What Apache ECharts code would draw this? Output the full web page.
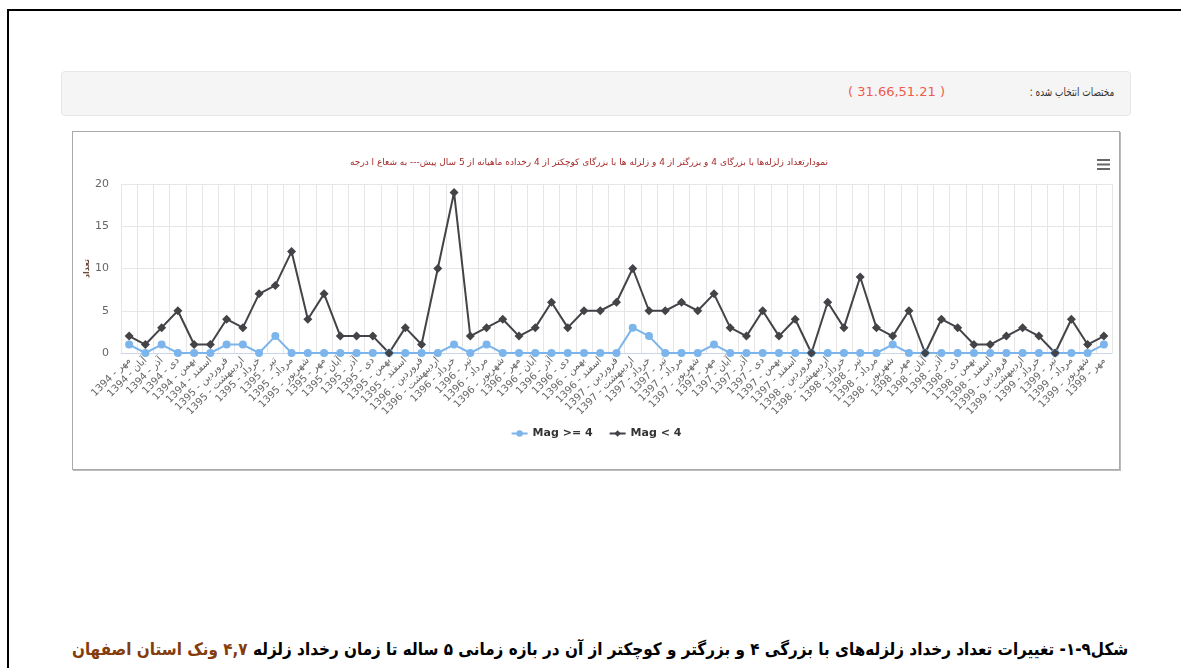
<!DOCTYPE html>
<html>
<head>
<meta charset="utf-8">
<script src="https://cdn.jsdelivr.net/npm/echarts@6/dist/echarts.min.js"></script>
<style>
  html, body { margin: 0; padding: 0; background: #fff; width: 1181px; height: 668px; overflow: hidden; font-family: "DejaVu Sans", sans-serif; }
  .frame { position: absolute; left: 7px; top: 9px; width: 1300px; height: 800px; border-left: 2px solid #000; border-top: 2px solid #000; }
  .panel { position: absolute; left: 61px; top: 71px; width: 1068px; height: 43px; background: #f5f5f5; border: 1px solid #e6e6e6; border-radius: 4px; }
  .panel .lbl { position: absolute; right: 16px; top: 13px; font-size: 12px; color: #333; direction: rtl; transform: scaleX(0.74); transform-origin: right center; white-space: nowrap; }
  .panel .val { position: absolute; left: 786px; top: 12px; font-size: 13px; color: #f05a50; direction: ltr; }
  .chartbox { position: absolute; left: 72px; top: 131px; width: 1046px; height: 337px; border: 1px solid #aaa; box-shadow: 1px 1px 0 #bbb; }
  .caption { position: absolute; right: 53px; top: 639px; text-align: right; direction: rtl; font-size: 17px; font-weight: bold; color: #000; white-space: nowrap; transform: scaleX(0.895); transform-origin: right center; }
  .caption span { color: #843c0c; }
</style>
</head>
<body>
<div class="frame"></div>
<div class="panel">
  <div class="lbl">مختصات انتخاب شده :</div>
  <div class="val">( 31.66,51.21 )</div>
</div>
<div class="chartbox" id="chart"></div>
<div class="caption">شکل۹-۱- تغییرات تعداد رخداد زلزله‌های با بزرگی ۴ و بزرگتر و کوچکتر از آن در بازه زمانی ۵ ساله تا زمان رخداد زلزله <span>۴,۷ ونک استان اصفهان</span></div>
<script>
// ماه‌ها از مهر ۱۳۹۴ تا مهر ۱۳۹۹
var categories = [
  'مهر - 1394', 'آبان - 1394', 'آذر - 1394', 'دی - 1394', 'بهمن - 1394', 'اسفند - 1394',
  'فروردین - 1395', 'اردیبهشت - 1395', 'خرداد - 1395', 'تیر - 1395', 'مرداد - 1395', 'شهریور - 1395',
  'مهر - 1395', 'آبان - 1395', 'آذر - 1395', 'دی - 1395', 'بهمن - 1395', 'اسفند - 1395',
  'فروردین - 1396', 'اردیبهشت - 1396', 'خرداد - 1396', 'تیر - 1396', 'مرداد - 1396', 'شهریور - 1396',
  'مهر - 1396', 'آبان - 1396', 'آذر - 1396', 'دی - 1396', 'بهمن - 1396', 'اسفند - 1396',
  'فروردین - 1397', 'اردیبهشت - 1397', 'خرداد - 1397', 'تیر - 1397', 'مرداد - 1397', 'شهریور - 1397',
  'مهر - 1397', 'آبان - 1397', 'آذر - 1397', 'دی - 1397', 'بهمن - 1397', 'اسفند - 1397',
  'فروردین - 1398', 'اردیبهشت - 1398', 'خرداد - 1398', 'تیر - 1398', 'مرداد - 1398', 'شهریور - 1398',
  'مهر - 1398', 'آبان - 1398', 'آذر - 1398', 'دی - 1398', 'بهمن - 1398', 'اسفند - 1398',
  'فروردین - 1399', 'اردیبهشت - 1399', 'خرداد - 1399', 'تیر - 1399', 'مرداد - 1399', 'شهریور - 1399',
  'مهر - 1399'
];

// Mag >= 4
var magHigh = [
  1, 0, 1, 0, 0, 0, 1, 1, 0, 2, 0, 0,
  0, 0, 0, 0, 0, 0, 0, 0, 1, 0, 1, 0,
  0, 0, 0, 0, 0, 0, 0, 3, 2, 0, 0, 0,
  1, 0, 0, 0, 0, 0, 0, 0, 0, 0, 0, 1,
  0, 0, 0, 0, 0, 0, 0, 0, 0, 0, 0, 0,
  1
];

// Mag < 4
var magLow = [
  2, 1, 3, 5, 1, 1, 4, 3, 7, 8, 12, 4,
  7, 2, 2, 2, 0, 3, 1, 10, 19, 2, 3, 4,
  2, 3, 6, 3, 5, 5, 6, 10, 5, 5, 6, 5,
  7, 3, 2, 5, 2, 4, 0, 6, 3, 9, 3, 2,
  5, 0, 4, 3, 1, 1, 2, 3, 2, 0, 4, 1,
  2
];

var yTicks = [0, 5, 10, 15, 20];

var chart = echarts.init(document.getElementById('chart'));

var diamond = 'path://M5,0 L10,5 L5,10 L0,5 Z';

var option = {
  animation: false,
  title: {
    text: 'نمودارتعداد زلزله‌ها با بزرگای 4 و بزرگتر از 4 و زلزله ها با بزرگای کوچکتر از 4 رخداده ماهیانه از 5 سال پیش--- به شعاع ا درجه',
    left: 272,
    top: 21,
    textStyle: { color: '#a52a2a', fontSize: 9, fontWeight: 'normal', fontFamily: 'DejaVu Sans' }
  },
  toolbox: {
    left: 1009,
    top: 12,
    itemSize: 13,
    feature: {
      myMenu: {
        show: true,
        title: '',
        icon: 'path://M0,0 H20 V3 H0 Z M0,7 H20 V10 H0 Z M0,14 H20 V17 H0 Z',
        onclick: function () {}
      }
    },
    iconStyle: { color: '#666', borderColor: '#666', borderWidth: 0 }
  },
  legend: {
    top: 291,
    left: 'center',
    itemWidth: 16,
    itemHeight: 8,
    itemGap: 16,
    data: ['Mag >= 4', 'Mag < 4'],
    textStyle: { color: '#333', fontSize: 11, fontWeight: 'bold', fontFamily: 'DejaVu Sans' }
  },
  grid: { left: 48, top: 52, width: 991, height: 169, outerBoundsMode: 'none', containLabel: false },
  xAxis: {
    type: 'category',
    data: categories,
    boundaryGap: true,
    axisLine: { lineStyle: { color: '#ccd6eb' } },
    axisTick: { show: false },
    splitLine: { show: true, interval: 0, lineStyle: { color: '#e6e6e6' } },
    axisLabel: { interval: 0, rotate: 45, fontSize: 10, color: '#666', margin: 6, fontFamily: 'DejaVu Sans' }
  },
  yAxis: {
    type: 'value',
    min: yTicks[0],
    max: yTicks[yTicks.length - 1],
    interval: 5,
    name: 'تعداد',
    nameLocation: 'middle',
    nameRotate: 90,
    nameGap: 30,
    nameMoveOverlap: false,
    nameTextStyle: { color: '#6b4a3a', fontSize: 8, fontWeight: 'bold', fontFamily: 'DejaVu Sans' },
    axisLine: { show: false },
    axisTick: { show: false },
    splitLine: { lineStyle: { color: '#e6e6e6' } },
    axisLabel: { color: '#666', fontSize: 11, margin: 12, fontFamily: 'DejaVu Sans' }
  },
  series: [
    {
      name: 'Mag >= 4',
      type: 'line',
      data: magHigh,
      symbol: 'circle',
      symbolSize: 8,
      showAllSymbol: true,
      lineStyle: { color: '#7cb5ec', width: 2 },
      itemStyle: { color: '#7cb5ec' }
    },
    {
      name: 'Mag < 4',
      type: 'line',
      data: magLow,
      symbol: diamond,
      symbolSize: 9,
      showAllSymbol: true,
      lineStyle: { color: '#434348', width: 2 },
      itemStyle: { color: '#434348' }
    }
  ]
};

chart.setOption(option);
</script>
</body>
</html>
